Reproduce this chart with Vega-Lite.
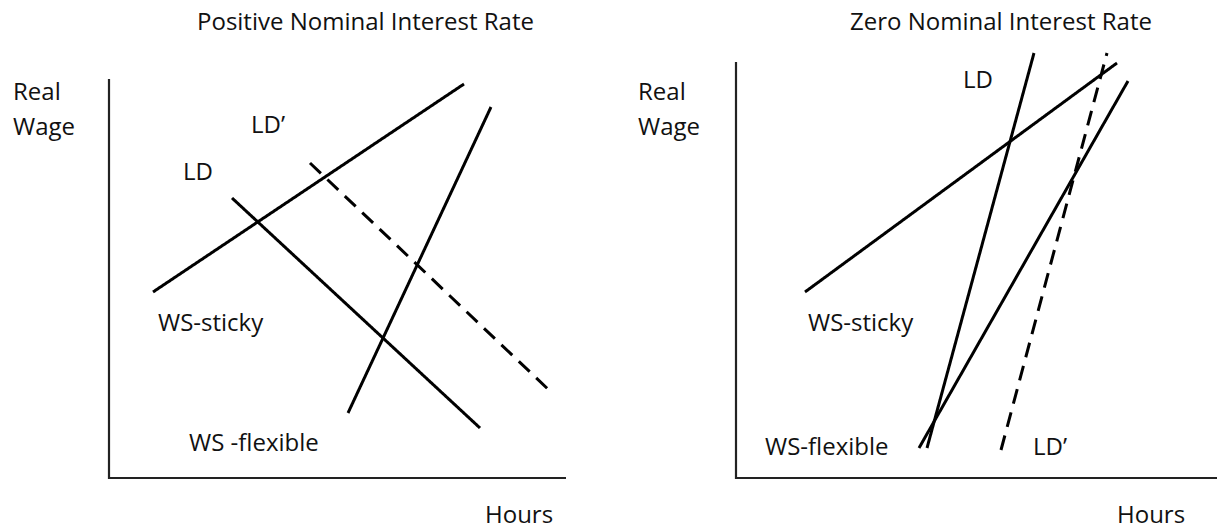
{
  "$schema": "https://vega.github.io/schema/vega-lite/v6.json",
  "background": "white",
  "padding": 0,
  "spacing": 0,
  "bounds": "flush",
  "config": {"view": {"stroke": null}, "concat": {"spacing": 0}},
  "datasets": {
    "curves": [
      {"panel": "positive", "curve": "WS-sticky", "order": 1, "hours": 44, "wage": 186},
      {"panel": "positive", "curve": "WS-sticky", "order": 2, "hours": 355, "wage": 394},
      {"panel": "positive", "curve": "WS-flexible", "order": 1, "hours": 239, "wage": 65},
      {"panel": "positive", "curve": "WS-flexible", "order": 2, "hours": 382, "wage": 371},
      {"panel": "positive", "curve": "LD", "order": 1, "hours": 123, "wage": 280},
      {"panel": "positive", "curve": "LD", "order": 2, "hours": 371, "wage": 50},
      {"panel": "positive", "curve": "LD'", "order": 1, "hours": 201, "wage": 315},
      {"panel": "positive", "curve": "LD'", "order": 2, "hours": 441, "wage": 87},
      {"panel": "zero", "curve": "WS-sticky", "order": 1, "hours": 69, "wage": 186},
      {"panel": "zero", "curve": "WS-sticky", "order": 2, "hours": 381, "wage": 415},
      {"panel": "zero", "curve": "WS-flexible", "order": 1, "hours": 183, "wage": 30},
      {"panel": "zero", "curve": "WS-flexible", "order": 2, "hours": 392, "wage": 397},
      {"panel": "zero", "curve": "LD", "order": 1, "hours": 191, "wage": 30},
      {"panel": "zero", "curve": "LD", "order": 2, "hours": 298, "wage": 425},
      {"panel": "zero", "curve": "LD'", "order": 1, "hours": 265, "wage": 28},
      {"panel": "zero", "curve": "LD'", "order": 2, "hours": 371, "wage": 425}
    ],
    "axes": [
      {"panel": "positive", "axis": "wage", "order": 1, "hours": 0, "wage": 399},
      {"panel": "positive", "axis": "wage", "order": 2, "hours": 0, "wage": 0},
      {"panel": "positive", "axis": "wage", "order": 3, "hours": 457, "wage": 0},
      {"panel": "zero", "axis": "wage", "order": 1, "hours": 0, "wage": 416},
      {"panel": "zero", "axis": "wage", "order": 2, "hours": 0, "wage": 0},
      {"panel": "zero", "axis": "wage", "order": 3, "hours": 481, "wage": 0}
    ],
    "labels": [
      {"panel": "positive", "text": "Positive Nominal Interest Rate", "hours": 88, "wage": 448},
      {"panel": "positive", "text": "Real", "hours": -96, "wage": 378},
      {"panel": "positive", "text": "Wage", "hours": -96, "wage": 343},
      {"panel": "positive", "text": "LD’", "hours": 142, "wage": 345},
      {"panel": "positive", "text": "LD", "hours": 74, "wage": 298},
      {"panel": "positive", "text": "WS-sticky", "hours": 49, "wage": 147},
      {"panel": "positive", "text": "WS -flexible", "hours": 80, "wage": 27},
      {"panel": "positive", "text": "Hours", "hours": 376, "wage": -45},
      {"panel": "zero", "text": "Zero Nominal Interest Rate", "hours": 114, "wage": 448},
      {"panel": "zero", "text": "Real", "hours": -98, "wage": 378},
      {"panel": "zero", "text": "Wage", "hours": -98, "wage": 343},
      {"panel": "zero", "text": "LD", "hours": 227, "wage": 390},
      {"panel": "zero", "text": "WS-sticky", "hours": 72, "wage": 147},
      {"panel": "zero", "text": "WS-flexible", "hours": 29, "wage": 23},
      {"panel": "zero", "text": "LD’", "hours": 297, "wage": 23},
      {"panel": "zero", "text": "Hours", "hours": 381, "wage": -45}
    ]
  },
  "hconcat": [
    {
      "width": 609,
      "height": 529,
      "layer": [
        {
          "data": {"name": "axes"},
          "transform": [{"filter": "datum.panel === 'positive'"}],
          "mark": {"type": "line", "color": "#222", "strokeWidth": 2.2, "clip": false},
          "encoding": {
            "x": {"field": "hours", "type": "quantitative", "scale": {"domain": [-109, 500], "nice": false, "zero": false}, "axis": null},
            "y": {"field": "wage", "type": "quantitative", "scale": {"domain": [-51, 478], "nice": false, "zero": false}, "axis": null},
            "order": {"field": "order"}
          }
        },
        {
          "data": {"name": "curves"},
          "transform": [{"filter": "datum.panel === 'positive'"}],
          "mark": {"type": "line", "color": "black", "strokeWidth": 3, "strokeCap": "butt"},
          "encoding": {
            "x": {"field": "hours", "type": "quantitative"},
            "y": {"field": "wage", "type": "quantitative"},
            "detail": {"field": "curve"},
            "order": {"field": "order"},
            "strokeDash": {"field": "curve", "type": "nominal", "scale": {"domain": ["LD", "LD'", "WS-sticky", "WS-flexible"], "range": [[1, 0], [15, 9], [1, 0], [1, 0]]}, "legend": null}
          }
        },
        {
          "data": {"name": "labels"},
          "transform": [{"filter": "datum.panel === 'positive'"}],
          "mark": {"type": "text", "font": "Open Sans", "fontSize": 24, "align": "left", "baseline": "alphabetic", "color": "#111"},
          "encoding": {
            "x": {"field": "hours", "type": "quantitative"},
            "y": {"field": "wage", "type": "quantitative"},
            "text": {"field": "text"}
          }
        }
      ]
    },
    {
      "width": 610,
      "height": 529,
      "layer": [
        {
          "data": {"name": "axes"},
          "transform": [{"filter": "datum.panel === 'zero'"}],
          "mark": {"type": "line", "color": "#222", "strokeWidth": 2.2, "clip": false},
          "encoding": {
            "x": {"field": "hours", "type": "quantitative", "scale": {"domain": [-127, 483], "nice": false, "zero": false}, "axis": null},
            "y": {"field": "wage", "type": "quantitative", "scale": {"domain": [-51, 478], "nice": false, "zero": false}, "axis": null},
            "order": {"field": "order"}
          }
        },
        {
          "data": {"name": "curves"},
          "transform": [{"filter": "datum.panel === 'zero'"}],
          "mark": {"type": "line", "color": "black", "strokeWidth": 3, "strokeCap": "butt"},
          "encoding": {
            "x": {"field": "hours", "type": "quantitative"},
            "y": {"field": "wage", "type": "quantitative"},
            "detail": {"field": "curve"},
            "order": {"field": "order"},
            "strokeDash": {"field": "curve", "type": "nominal", "scale": {"domain": ["LD", "LD'", "WS-sticky", "WS-flexible"], "range": [[1, 0], [15, 9], [1, 0], [1, 0]]}, "legend": null}
          }
        },
        {
          "data": {"name": "labels"},
          "transform": [{"filter": "datum.panel === 'zero'"}],
          "mark": {"type": "text", "font": "Open Sans", "fontSize": 24, "align": "left", "baseline": "alphabetic", "color": "#111"},
          "encoding": {
            "x": {"field": "hours", "type": "quantitative"},
            "y": {"field": "wage", "type": "quantitative"},
            "text": {"field": "text"}
          }
        }
      ]
    }
  ]
}
